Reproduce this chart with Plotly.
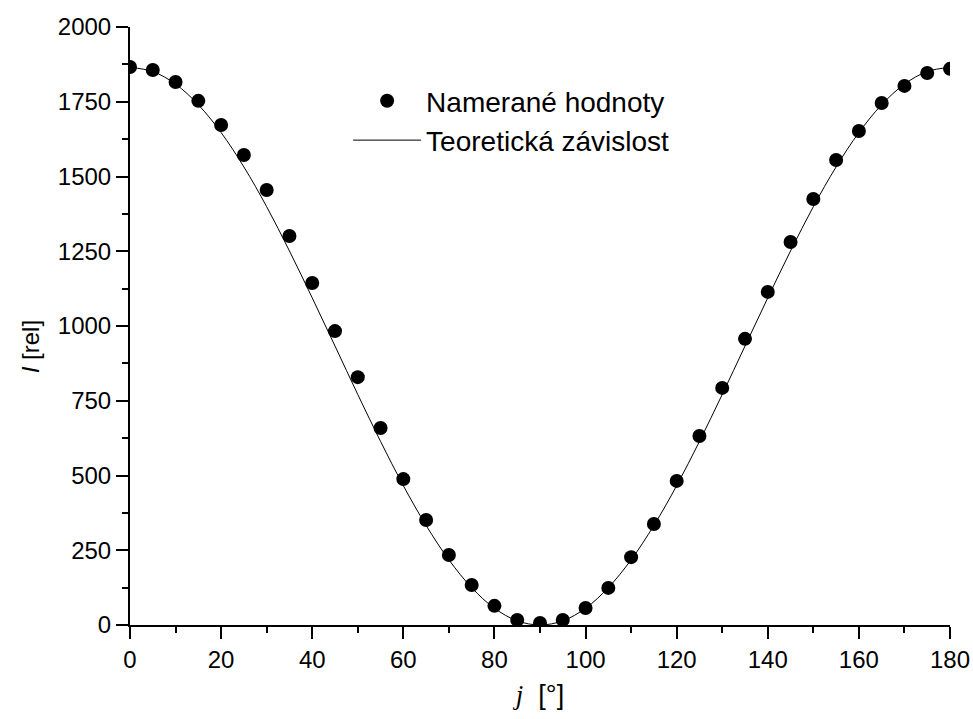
import plotly.graph_objects as go

# Measured values
angle_meas = [0, 5, 10, 15, 20, 25, 30, 35, 40, 45, 50, 55, 60, 65, 70, 75, 80, 85, 90,
              95, 100, 105, 110, 115, 120, 125, 130, 135, 140, 145, 150, 155, 160, 165, 170, 175, 180]
intensity_meas = [1866, 1856, 1816, 1753, 1672, 1572, 1455, 1301, 1144, 983, 829, 659, 488, 351, 234, 134, 64, 17, 7,
                  17, 57, 124, 227, 338, 482, 632, 793, 957, 1114, 1281, 1425, 1555, 1652, 1746, 1803, 1846, 1860]

# Theoretical curve
angle_theo = [0, 5, 10, 15, 20, 25, 30, 35, 40, 45, 50, 55, 60, 65, 70, 75, 80, 85, 90,
              95, 100, 105, 110, 115, 120, 125, 130, 135, 140, 145, 150, 155, 160, 165, 170, 175, 180]
intensity_theo = [1865, 1851, 1809, 1740, 1647, 1532, 1399, 1251, 1094, 933, 771, 614, 466, 333, 218, 125, 56, 14, 0,
                  14, 56, 125, 218, 333, 466, 614, 771, 933, 1094, 1251, 1399, 1532, 1647, 1740, 1809, 1851, 1865]

x_ticks = [0, 20, 40, 60, 80, 100, 120, 140, 160, 180]
y_ticks = [0, 250, 500, 750, 1000, 1250, 1500, 1750, 2000]

FONT = "Liberation Sans, Arial, sans-serif"

fig = go.Figure()
fig.add_trace(go.Scatter(
    x=angle_meas, y=intensity_meas, mode="markers", name="Namerané hodnoty",
    marker=dict(color="black", size=14, line=dict(width=0)),
))
fig.add_trace(go.Scatter(
    x=angle_theo, y=intensity_theo, mode="lines", name="Teoretická závislost",
    line=dict(color="black", width=1, shape="spline", smoothing=1.0),
))

fig.update_layout(
    width=973, height=719,
    margin=dict(l=130, r=23, t=27, b=94),
    paper_bgcolor="white", plot_bgcolor="white",
    font=dict(family=FONT, size=24, color="black"),
    showlegend=True,
    legend=dict(
        x=0.266, y=0.918, xanchor="left", yanchor="top",
        bgcolor="rgba(0,0,0,0)", borderwidth=0,
        font=dict(family=FONT, size=28, color="black"),
        itemwidth=68, tracegroupgap=0,
    ),
    xaxis=dict(
        range=[0, 180], tickvals=x_ticks, ticktext=[str(v) for v in x_ticks],
        showgrid=False, zeroline=False, automargin=False,
        showline=True, linecolor="black", linewidth=2,
        ticks="outside", ticklen=12, tickwidth=2, tickcolor="black",
        minor=dict(dtick=10, ticks="outside", ticklen=6, tickwidth=2, tickcolor="black", showgrid=False),
        tickfont=dict(family=FONT, size=24, color="black"),
        title=dict(text="<span style='font-family:Liberation Serif'><i>j</i></span>  [°]",
                   font=dict(family=FONT, size=27, color="black"), standoff=13),
    ),
    yaxis=dict(
        range=[0, 2000], tickvals=y_ticks, ticktext=[str(v) for v in y_ticks],
        showgrid=False, zeroline=False, automargin=False,
        showline=True, linecolor="black", linewidth=2,
        ticks="outside", ticklen=12, tickwidth=2, tickcolor="black",
        minor=dict(dtick=125, ticks="outside", ticklen=6, tickwidth=2, tickcolor="black", showgrid=False),
        tickfont=dict(family=FONT, size=24, color="black"),
    ),
    annotations=[dict(
        text="<i>I</i> [rel]", textangle=-90, showarrow=False,
        xref="paper", yref="paper", x=-0.122, y=0.466, xanchor="center", yanchor="middle",
        font=dict(family=FONT, size=24, color="black"),
    )],
)

# remove the default 8px page margin so the 973x719 figure fills the window exactly
fig.write_html("out.html", config={"displayModeBar": False},
               post_script="document.body.style.margin='0';document.body.style.overflow='hidden';")
